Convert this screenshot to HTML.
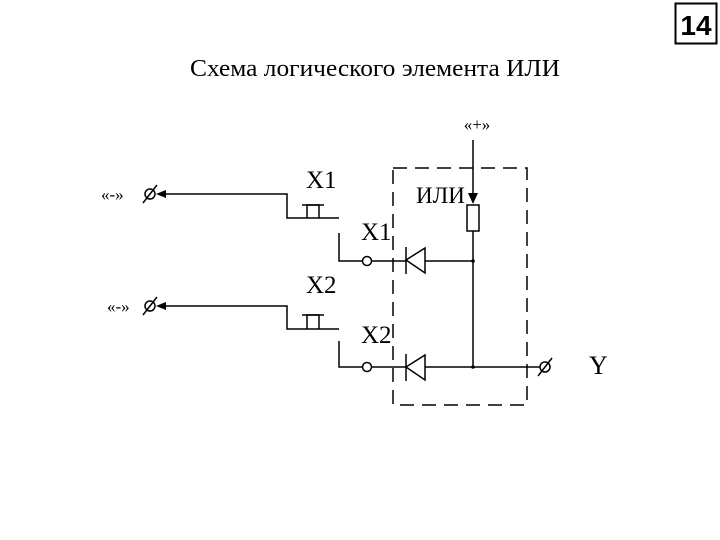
<!DOCTYPE html>
<html><head><meta charset="utf-8"><style>
html,body{margin:0;padding:0;background:#fff;}
svg{display:block}
</style></head><body>
<svg width="720" height="540" viewBox="0 0 720 540" xmlns="http://www.w3.org/2000/svg">
<rect x="675.5" y="3.5" width="41" height="40" fill="none" stroke="#000" stroke-width="2"/>
<text x="696" y="35" font-family="Liberation Sans, sans-serif" font-weight="bold" font-size="28" text-anchor="middle">14</text>
<text x="375" y="76" font-family="Liberation Serif, serif" font-size="24" text-anchor="middle" textLength="370" lengthAdjust="spacingAndGlyphs">Схема логического элемента ИЛИ</text>
<g stroke="#000" stroke-width="1.5" fill="none">
<polyline points="160,194 287,194 287,218 339,218"/>
<polyline points="307,218 307,205 319,205 319,218"/>
<line x1="302" y1="205" x2="324" y2="205"/>
<polyline points="339,233 339,261 363,261"/>
<circle cx="367" cy="261" r="4.5"/>
<line x1="371.5" y1="261" x2="406" y2="261"/>
<polyline points="160,306 287,306 287,329 339,329"/>
<polyline points="307,329 307,315 319,315 319,329"/>
<line x1="302" y1="315" x2="324" y2="315"/>
<polyline points="339,341 339,367 363,367"/>
<circle cx="367" cy="367" r="4.5"/>
<line x1="371.5" y1="367" x2="406" y2="367"/>
<polygon points="406,260 425,248 425,273"/>
<line x1="406" y1="247" x2="406" y2="274"/>
<line x1="425" y1="261" x2="473" y2="261"/>
<polygon points="406,367 425,355 425,380"/>
<line x1="406" y1="354" x2="406" y2="381"/>
<line x1="425" y1="367" x2="540" y2="367"/>
<line x1="473" y1="140" x2="473" y2="198"/>
<rect x="467" y="205" width="12" height="26"/>
<line x1="473" y1="231" x2="473" y2="367"/>
<rect x="393" y="168" width="134" height="237" stroke-dasharray="14,8"/>
<circle cx="150" cy="194" r="5"/><line x1="143" y1="203" x2="157" y2="185"/>
<circle cx="150" cy="306" r="5"/><line x1="143" y1="315" x2="157" y2="297"/>
<circle cx="545" cy="367" r="5"/><line x1="538" y1="376" x2="552" y2="358"/>
</g>
<g fill="#000">
<polygon points="156,194 166,190 166,198"/>
<polygon points="156,306 166,302 166,310"/>
<polygon points="473,204 468,193 478,193"/>
<circle cx="473" cy="261" r="1.8"/>
<circle cx="473" cy="367" r="1.8"/>
</g>
<g font-family="Liberation Serif, serif" font-size="25">
<text x="306" y="188">X1</text>
<text x="361" y="240">X1</text>
<text x="306" y="293">X2</text>
<text x="361" y="343">X2</text>
<text x="416" y="203" font-size="23">ИЛИ</text>
<text x="589" y="374" font-size="26">Y</text>
<text x="101" y="200" font-size="17">«-»</text>
<text x="107" y="312" font-size="17">«-»</text>
<text x="477" y="130" font-size="17" text-anchor="middle">«+»</text>
</g>
</svg>
</body></html>
